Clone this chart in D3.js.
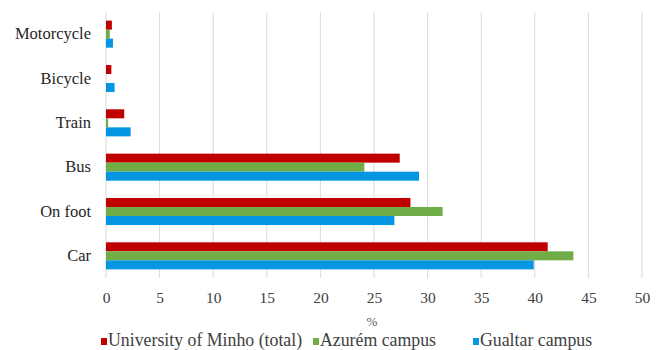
<!DOCTYPE html>
<html>
<head>
<meta charset="utf-8">
<script src="https://cdn.jsdelivr.net/npm/d3@7"></script>
<style>
  body { margin: 0; background: #fff; }
  svg { display: block; }
  svg text { font-family: "Liberation Serif", "DejaVu Serif", serif; }
</style>
</head>
<body>
<svg id="chart" width="662" height="350"></svg>
<script>
// categories top to bottom
const modes = ['Motorcycle', 'Bicycle', 'Train', 'Bus', 'On foot', 'Car']
const seriesNames = ['University of Minho (total)', 'Azurém campus', 'Gualtar campus']
// percentages
const totalValues = [0.55, 0.5, 1.7, 27.4, 28.4, 41.2]
const azuremValues = [0.35, 0, 0.2, 24.1, 31.4, 43.6]
const gualtarValues = [0.65, 0.8, 2.3, 29.2, 26.9, 39.9]
const xTicks = [0, 5, 10, 15, 20, 25, 30, 35, 40, 45, 50]
const colors = ['#c00000', '#70ad47', '#0496e3']

const series = [totalValues, azuremValues, gualtarValues]
const svg = d3.select('#chart')
const margin = { left: 106, right: 20, top: 12, bottom: 72 }
const height = 350

const x = d3.scaleLinear().domain([0, 50]).range([margin.left, 642])
const y = d3.scaleBand().domain(modes)
  .range([margin.top, height - margin.bottom])
  .paddingInner(0.39).paddingOuter(0.195)
const ySub = d3.scaleBand().domain(d3.range(series.length)).range([0, y.bandwidth()])

// gridlines
svg.append('g')
  .selectAll('line')
  .data(xTicks)
  .enter()
  .append('line')
  .attr('x1', d => x(d)).attr('x2', d => x(d))
  .attr('y1', margin.top).attr('y2', height - margin.bottom)
  .attr('stroke', '#d9d9d9')
  .attr('stroke-width', 1)

// bars
series.forEach(function (vals, i) {
  svg.append('g')
    .style('fill', colors[i])
    .selectAll('rect')
    .data(modes)
    .enter()
    .append('rect')
    .attr('x', x(0))
    .attr('y', (d) => y(d) + ySub(i))
    .attr('width', (d, j) => x(vals[j]) - x(0))
    .attr('height', ySub.bandwidth())
})

// x axis labels
const xAxis = d3.axisBottom(x).tickValues(xTicks).tickSize(0).tickPadding(14)
const gx = svg.append('g')
  .attr('transform', 'translate(0,' + (height - margin.bottom) + ')')
  .call(xAxis)
gx.attr('font-family', null)
gx.select('.domain').remove()
gx.selectAll('text')
  .style('font-size', '15.5px')
  .attr('fill', '#404040')

// y axis labels
const yAxis = d3.axisLeft(y).tickSize(0).tickPadding(15)
const gy = svg.append('g')
  .attr('transform', 'translate(' + x(0) + ',0)')
  .call(yAxis)
gy.attr('font-family', null)
gy.select('.domain').remove()
gy.selectAll('text')
  .style('font-size', '16.5px')
  .attr('fill', '#262626')

// axis title
svg.append('text')
  .attr('x', 372)
  .attr('y', 326)
  .attr('text-anchor', 'middle')
  .style('font-size', '13px')
  .attr('fill', '#595959')
  .text('%')

// legend
const legendX = [101, 313, 473]
const legend = svg.append('g')
seriesNames.forEach(function (name, i) {
  legend.append('rect')
    .attr('x', legendX[i]).attr('y', 338)
    .attr('width', 6).attr('height', 7)
    .attr('fill', colors[i])
  legend.append('text')
    .attr('x', legendX[i] + 7).attr('y', 346)
    .style('font-size', '17.8px')
    .attr('fill', '#404040')
    .text(name)
})
</script>
</body>
</html>
